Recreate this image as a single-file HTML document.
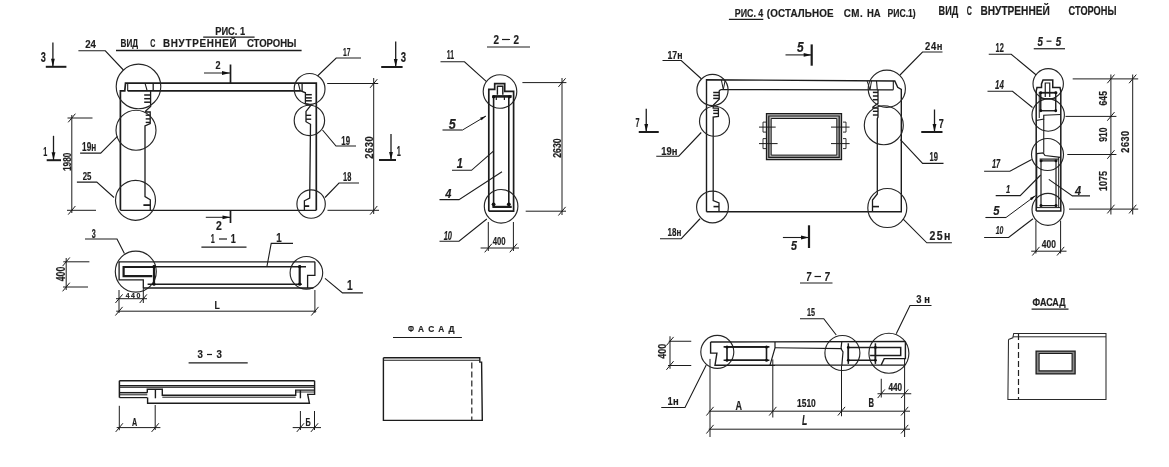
<!DOCTYPE html>
<html><head><meta charset="utf-8"><style>
html,body{margin:0;padding:0;background:#fff;width:1169px;height:467px;overflow:hidden}
svg{display:block}
svg{will-change:transform}
text{font-family:"Liberation Sans",sans-serif}
</style></head><body>
<svg width="1169" height="467" viewBox="0 0 1169 467">
<rect x="0" y="0" width="1169" height="467" fill="#fff"/>
<text transform="translate(215.20,34.50) scale(0.835,1)" x="-0.00" y="0" font-size="11.16" font-weight="bold" font-style="normal" fill="#1e1e1e" stroke="#1e1e1e" stroke-width="0.2">РИС. 1</text>
<line x1="203.20" y1="37.10" x2="254.60" y2="37.10" stroke="#1c1c1c" stroke-width="1.2" />
<text transform="translate(120.60,47.40) scale(0.732,1)" x="-0.00" y="0" font-size="11.16" font-weight="bold" font-style="normal" fill="#1e1e1e" stroke="#1e1e1e" stroke-width="0.2">ВИД</text>
<text transform="translate(150.20,47.40) scale(0.635,1)" x="-0.00" y="0" font-size="11.16" font-weight="bold" font-style="normal" fill="#1e1e1e" stroke="#1e1e1e" stroke-width="0.2">С</text>
<text transform="translate(163.00,47.40) scale(0.880,1)" x="-0.00" y="0" font-size="11.16" font-weight="bold" font-style="normal" textLength="83.65" lengthAdjust="spacing" fill="#1e1e1e" stroke="#1e1e1e" stroke-width="0.2">ВНУТРЕННЕЙ</text>
<text transform="translate(246.90,47.40) scale(0.856,1)" x="-0.00" y="0" font-size="11.16" font-weight="bold" font-style="normal" fill="#1e1e1e" stroke="#1e1e1e" stroke-width="0.2">СТОРОНЫ</text>
<line x1="116.00" y1="50.50" x2="301.60" y2="50.50" stroke="#1c1c1c" stroke-width="1.3" />
<text transform="translate(40.70,62.10) scale(0.625,1)" x="-0.00" y="0" font-size="14.71" font-weight="bold" font-style="normal" fill="#1e1e1e" stroke="#1e1e1e" stroke-width="0.2">3</text>
<line x1="52.90" y1="42.40" x2="52.90" y2="66.80" stroke="#1c1c1c" stroke-width="1.3" />
<path d="M52.90,66.80 L51.00,58.80 L54.80,58.80 Z" fill="#111"/>
<line x1="45.80" y1="66.80" x2="66.40" y2="66.80" stroke="#1c1c1c" stroke-width="2.0" />
<line x1="395.70" y1="41.50" x2="395.70" y2="67.00" stroke="#1c1c1c" stroke-width="1.3" />
<path d="M395.70,67.00 L393.80,59.00 L397.60,59.00 Z" fill="#111"/>
<line x1="381.20" y1="67.00" x2="402.60" y2="67.00" stroke="#1c1c1c" stroke-width="2.0" />
<text transform="translate(400.70,61.70) scale(0.689,1)" x="-0.00" y="0" font-size="13.86" font-weight="bold" font-style="normal" fill="#1e1e1e" stroke="#1e1e1e" stroke-width="0.2">3</text>
<path d="M316.30,210.30 L316.30,83.20 L125.50,83.20 L124.80,90.90 L120.40,90.90 L120.40,210.30" stroke="#1c1c1c" stroke-width="1.7" fill="none" stroke-linejoin="miter"/>
<line x1="120.40" y1="210.30" x2="316.30" y2="210.30" stroke="#1c1c1c" stroke-width="1.3" />
<line x1="127.70" y1="90.90" x2="300.90" y2="90.90" stroke="#1c1c1c" stroke-width="1.7" />
<line x1="127.70" y1="83.20" x2="127.70" y2="90.90" stroke="#1c1c1c" stroke-width="1.1" />
<line x1="145.00" y1="83.20" x2="147.20" y2="90.90" stroke="#1c1c1c" stroke-width="1.1" />
<line x1="153.20" y1="83.20" x2="153.20" y2="90.90" stroke="#1c1c1c" stroke-width="1.3" />
<path d="M150.60,90.90 L150.60,106.50 L145.70,111.00 L145.70,112.00 L150.20,112.00 L150.20,123.50 L145.00,126.00 L145.00,196.60 L150.30,199.80 L150.30,210.30" stroke="#1c1c1c" stroke-width="1.3" fill="none" stroke-linejoin="miter"/>
<line x1="144.20" y1="95.00" x2="150.60" y2="95.00" stroke="#1c1c1c" stroke-width="1.5" />
<line x1="144.20" y1="98.70" x2="150.60" y2="98.70" stroke="#1c1c1c" stroke-width="1.5" />
<line x1="144.20" y1="102.20" x2="150.60" y2="102.20" stroke="#1c1c1c" stroke-width="1.5" />
<line x1="145.70" y1="115.20" x2="150.20" y2="115.20" stroke="#1c1c1c" stroke-width="1.4" />
<line x1="145.70" y1="118.90" x2="150.20" y2="118.90" stroke="#1c1c1c" stroke-width="1.4" />
<line x1="145.70" y1="122.40" x2="150.20" y2="122.40" stroke="#1c1c1c" stroke-width="1.4" />
<line x1="143.40" y1="205.10" x2="150.30" y2="205.10" stroke="#1c1c1c" stroke-width="1.8" />
<line x1="298.30" y1="83.20" x2="300.20" y2="90.90" stroke="#1c1c1c" stroke-width="1.1" />
<line x1="302.10" y1="83.20" x2="302.10" y2="90.90" stroke="#1c1c1c" stroke-width="1.3" />
<path d="M300.90,90.90 L305.40,92.80 L305.40,103.70 L311.20,105.00 L306.00,111.40 L306.00,121.70 L310.50,124.30 L309.70,198.00 L304.40,200.80 L304.40,210.30" stroke="#1c1c1c" stroke-width="1.3" fill="none" stroke-linejoin="miter"/>
<line x1="305.40" y1="94.70" x2="311.80" y2="94.70" stroke="#1c1c1c" stroke-width="1.5" />
<line x1="305.40" y1="97.90" x2="311.80" y2="97.90" stroke="#1c1c1c" stroke-width="1.5" />
<line x1="305.40" y1="100.80" x2="311.80" y2="100.80" stroke="#1c1c1c" stroke-width="1.5" />
<line x1="306.00" y1="115.30" x2="311.20" y2="115.30" stroke="#1c1c1c" stroke-width="1.4" />
<line x1="306.00" y1="119.20" x2="311.20" y2="119.20" stroke="#1c1c1c" stroke-width="1.4" />
<line x1="304.40" y1="206.10" x2="309.20" y2="206.10" stroke="#1c1c1c" stroke-width="1.8" />
<circle cx="138.50" cy="86.50" r="22.30" stroke="#262626" stroke-width="1.15" fill="none"/>
<circle cx="136.00" cy="130.20" r="20.00" stroke="#262626" stroke-width="1.15" fill="none"/>
<circle cx="135.50" cy="200.30" r="20.00" stroke="#262626" stroke-width="1.15" fill="none"/>
<circle cx="309.60" cy="88.90" r="15.40" stroke="#262626" stroke-width="1.15" fill="none"/>
<circle cx="309.40" cy="120.40" r="15.20" stroke="#262626" stroke-width="1.15" fill="none"/>
<circle cx="311.10" cy="204.00" r="14.20" stroke="#262626" stroke-width="1.15" fill="none"/>
<line x1="230.50" y1="64.50" x2="230.50" y2="83.20" stroke="#1c1c1c" stroke-width="1.7" />
<line x1="204.00" y1="73.00" x2="230.00" y2="73.00" stroke="#1c1c1c" stroke-width="1.0" />
<path d="M230.00,73.00 L222.00,74.90 L222.00,71.10 Z" fill="#111"/>
<text transform="translate(215.50,68.75) scale(0.841,1)" x="-0.00" y="0" font-size="10.71" font-weight="bold" font-style="normal" fill="#1e1e1e" stroke="#1e1e1e" stroke-width="0.2">2</text>
<line x1="230.50" y1="210.30" x2="230.50" y2="223.00" stroke="#1c1c1c" stroke-width="1.7" />
<line x1="205.80" y1="217.30" x2="230.50" y2="217.30" stroke="#1c1c1c" stroke-width="1.0" />
<path d="M230.50,217.30 L222.50,219.20 L222.50,215.40 Z" fill="#111"/>
<text transform="translate(216.00,230.40) scale(0.831,1)" x="-0.00" y="0" font-size="12.57" font-weight="bold" font-style="normal" fill="#1e1e1e" stroke="#1e1e1e" stroke-width="0.2">2</text>
<line x1="53.50" y1="135.80" x2="53.50" y2="160.20" stroke="#1c1c1c" stroke-width="1.3" />
<path d="M53.50,160.20 L51.60,152.20 L55.40,152.20 Z" fill="#111"/>
<line x1="46.70" y1="160.20" x2="61.00" y2="160.20" stroke="#1c1c1c" stroke-width="2.0" />
<text transform="translate(43.30,155.70) scale(0.561,1)" x="-0.00" y="0" font-size="12.86" font-weight="bold" font-style="normal" fill="#1e1e1e" stroke="#1e1e1e" stroke-width="0.2">1</text>
<line x1="391.00" y1="134.00" x2="391.00" y2="160.00" stroke="#1c1c1c" stroke-width="1.3" />
<path d="M391.00,160.00 L389.10,152.00 L392.90,152.00 Z" fill="#111"/>
<line x1="379.00" y1="160.00" x2="396.00" y2="160.00" stroke="#1c1c1c" stroke-width="2.0" />
<text transform="translate(396.70,156.25) scale(0.517,1)" x="-0.00" y="0" font-size="14.29" font-weight="bold" font-style="normal" fill="#1e1e1e" stroke="#1e1e1e" stroke-width="0.2">1</text>
<text transform="translate(85.20,48.40) scale(0.833,1)" x="-0.00" y="0" font-size="11.57" font-weight="bold" font-style="normal" fill="#1e1e1e" stroke="#1e1e1e" stroke-width="0.2">24</text>
<path d="M78.40,50.80 L105.30,50.80 L123.40,70.00" stroke="#1c1c1c" stroke-width="1.1" fill="none" stroke-linejoin="miter"/>
<text transform="translate(82.10,150.60) scale(0.685,1)" x="-0.00" y="0" font-size="12.00" font-weight="bold" font-style="normal" fill="#1e1e1e" stroke="#1e1e1e" stroke-width="0.2">19н</text>
<path d="M80.10,153.10 L100.70,153.10 L117.40,136.40" stroke="#1c1c1c" stroke-width="1.1" fill="none" stroke-linejoin="miter"/>
<text transform="translate(82.70,179.50) scale(0.713,1)" x="-0.00" y="0" font-size="11.00" font-weight="bold" font-style="normal" fill="#1e1e1e" stroke="#1e1e1e" stroke-width="0.2">25</text>
<path d="M76.90,182.10 L96.80,182.10 L114.00,197.50" stroke="#1c1c1c" stroke-width="1.1" fill="none" stroke-linejoin="miter"/>
<text transform="translate(343.00,55.70) scale(0.577,1)" x="-0.00" y="0" font-size="11.71" font-weight="bold" font-style="normal" fill="#1e1e1e" stroke="#1e1e1e" stroke-width="0.2">17</text>
<path d="M361.00,58.00 L336.20,58.00 L317.50,76.00" stroke="#1c1c1c" stroke-width="1.1" fill="none" stroke-linejoin="miter"/>
<text transform="translate(341.25,145.00) scale(0.631,1)" x="-0.00" y="0" font-size="12.50" font-weight="bold" font-style="normal" fill="#1e1e1e" stroke="#1e1e1e" stroke-width="0.2">19</text>
<path d="M322.50,130.00 L336.00,146.00 L356.00,146.00" stroke="#1c1c1c" stroke-width="1.1" fill="none" stroke-linejoin="miter"/>
<text transform="translate(343.00,181.25) scale(0.595,1)" x="-0.00" y="0" font-size="12.50" font-weight="bold" font-style="normal" fill="#1e1e1e" stroke="#1e1e1e" stroke-width="0.2">18</text>
<path d="M325.00,197.50 L339.00,183.00 L359.00,183.00" stroke="#1c1c1c" stroke-width="1.1" fill="none" stroke-linejoin="miter"/>
<line x1="373.70" y1="78.00" x2="373.70" y2="214.00" stroke="#1c1c1c" stroke-width="1.0" />
<line x1="327.20" y1="83.50" x2="378.20" y2="83.50" stroke="#1c1c1c" stroke-width="1.0" />
<line x1="327.50" y1="210.30" x2="379.00" y2="210.30" stroke="#1c1c1c" stroke-width="1.0" />
<line x1="370.10" y1="87.82" x2="377.30" y2="79.18" stroke="#1c1c1c" stroke-width="1.0" />
<line x1="370.10" y1="214.62" x2="377.30" y2="205.98" stroke="#1c1c1c" stroke-width="1.0" />
<text transform="translate(372.50,158.75) rotate(-90) scale(0.880,1)" x="-0.00" y="0" font-size="10.64" font-weight="bold" textLength="25.56" lengthAdjust="spacing" fill="#1e1e1e" stroke="#1e1e1e" stroke-width="0.2">2630</text>
<line x1="71.80" y1="115.00" x2="71.80" y2="213.00" stroke="#1c1c1c" stroke-width="1.0" />
<line x1="67.50" y1="118.00" x2="92.50" y2="118.00" stroke="#1c1c1c" stroke-width="1.0" />
<line x1="67.00" y1="210.30" x2="96.00" y2="210.30" stroke="#1c1c1c" stroke-width="1.0" />
<line x1="68.20" y1="122.32" x2="75.40" y2="113.68" stroke="#1c1c1c" stroke-width="1.0" />
<line x1="68.20" y1="214.62" x2="75.40" y2="205.98" stroke="#1c1c1c" stroke-width="1.0" />
<text transform="translate(71.10,171.10) rotate(-90) scale(0.710,1)" x="-0.00" y="0" font-size="11.77" font-weight="bold" fill="#1e1e1e" stroke="#1e1e1e" stroke-width="0.2">1980</text>
<text transform="translate(493.50,44.00) scale(0.771,1)" x="-0.00" y="0" font-size="12.86" font-weight="bold" font-style="normal" fill="#1e1e1e" stroke="#1e1e1e" stroke-width="0.2">2</text>
<line x1="502.00" y1="39.50" x2="510.00" y2="39.50" stroke="#1c1c1c" stroke-width="1.2" />
<text transform="translate(513.50,44.00) scale(0.771,1)" x="-0.00" y="0" font-size="12.86" font-weight="bold" font-style="normal" fill="#1e1e1e" stroke="#1e1e1e" stroke-width="0.2">2</text>
<line x1="487.00" y1="47.00" x2="530.00" y2="47.00" stroke="#1c1c1c" stroke-width="1.2" />
<text transform="translate(446.80,59.00) scale(0.531,1)" x="-0.00" y="0" font-size="12.86" font-weight="bold" font-style="normal" fill="#1e1e1e" stroke="#1e1e1e" stroke-width="0.2">11</text>
<path d="M440.50,61.80 L464.50,61.80 L486.50,81.60" stroke="#1c1c1c" stroke-width="1.1" fill="none" stroke-linejoin="miter"/>
<circle cx="500.00" cy="91.50" r="16.80" stroke="#262626" stroke-width="1.15" fill="none"/>
<circle cx="501.10" cy="206.30" r="16.80" stroke="#262626" stroke-width="1.15" fill="none"/>
<path d="M488.80,211.20 L488.80,89.40 L494.70,89.40 L494.70,83.60 L504.70,83.60 L504.70,91.30 L513.60,91.30 L513.60,211.20 L488.80,211.20" stroke="#1c1c1c" stroke-width="1.7" fill="none" stroke-linejoin="miter"/>
<path d="M497.40,94.80 L497.40,86.30 L502.80,86.30 L502.80,94.80" stroke="#1c1c1c" stroke-width="1.4" fill="none" stroke-linejoin="miter"/>
<line x1="492.40" y1="96.40" x2="511.70" y2="96.40" stroke="#1c1c1c" stroke-width="2.6" />
<line x1="496.30" y1="96.40" x2="496.30" y2="100.00" stroke="#1c1c1c" stroke-width="1.2" />
<line x1="504.40" y1="96.40" x2="504.40" y2="100.00" stroke="#1c1c1c" stroke-width="1.2" />
<line x1="493.60" y1="96.40" x2="493.60" y2="206.90" stroke="#1c1c1c" stroke-width="1.6" />
<line x1="508.80" y1="96.40" x2="508.80" y2="206.90" stroke="#1c1c1c" stroke-width="1.6" />
<line x1="492.40" y1="206.90" x2="511.70" y2="206.90" stroke="#1c1c1c" stroke-width="2.2" />
<circle cx="493.60" cy="204.30" r="1.9" fill="#111"/>
<circle cx="508.80" cy="204.30" r="1.9" fill="#111"/>
<circle cx="493.60" cy="96.80" r="1.6" fill="#111"/>
<circle cx="509.50" cy="96.80" r="1.6" fill="#111"/>
<line x1="522.40" y1="82.60" x2="566.40" y2="82.60" stroke="#1c1c1c" stroke-width="1.0" />
<line x1="525.70" y1="211.20" x2="566.00" y2="211.20" stroke="#1c1c1c" stroke-width="1.0" />
<line x1="562.00" y1="78.00" x2="562.00" y2="215.00" stroke="#1c1c1c" stroke-width="1.0" />
<line x1="558.40" y1="86.92" x2="565.60" y2="78.28" stroke="#1c1c1c" stroke-width="1.0" />
<line x1="558.40" y1="215.52" x2="565.60" y2="206.88" stroke="#1c1c1c" stroke-width="1.0" />
<text transform="translate(560.50,157.80) rotate(-90) scale(0.744,1)" x="-0.00" y="0" font-size="11.77" font-weight="bold" fill="#1e1e1e" stroke="#1e1e1e" stroke-width="0.2">2630</text>
<line x1="488.30" y1="222.00" x2="488.30" y2="251.00" stroke="#1c1c1c" stroke-width="1.0" />
<line x1="513.40" y1="222.00" x2="513.40" y2="251.00" stroke="#1c1c1c" stroke-width="1.0" />
<line x1="480.60" y1="248.00" x2="519.00" y2="248.00" stroke="#1c1c1c" stroke-width="1.0" />
<line x1="484.70" y1="252.32" x2="491.90" y2="243.68" stroke="#1c1c1c" stroke-width="1.0" />
<line x1="509.80" y1="252.32" x2="517.00" y2="243.68" stroke="#1c1c1c" stroke-width="1.0" />
<text transform="translate(492.70,245.00) scale(0.711,1)" x="-0.00" y="0" font-size="10.86" font-weight="bold" font-style="normal" fill="#1e1e1e" stroke="#1e1e1e" stroke-width="0.2">400</text>
<text transform="translate(448.75,128.75) scale(0.880,1)" x="-0.00" y="0" font-size="14.29" font-weight="bold" font-style="italic" fill="#1e1e1e" stroke="#1e1e1e" stroke-width="0.2">5</text>
<line x1="462.50" y1="130.00" x2="486.00" y2="116.00" stroke="#1c1c1c" stroke-width="1.0" />
<path d="M486.00,116.00 L481.61,120.36 L480.08,117.78 Z" fill="#111"/>
<line x1="442.50" y1="130.00" x2="462.50" y2="130.00" stroke="#1c1c1c" stroke-width="1.1" />
<text transform="translate(456.70,167.50) scale(0.769,1)" x="-0.00" y="0" font-size="14.29" font-weight="bold" font-style="italic" fill="#1e1e1e" stroke="#1e1e1e" stroke-width="0.2">1</text>
<path d="M452.00,170.30 L471.50,170.30 L493.70,150.90" stroke="#1c1c1c" stroke-width="1.1" fill="none" stroke-linejoin="miter"/>
<text transform="translate(445.00,197.50) scale(0.880,1)" x="0.25" y="0" font-size="12.50" font-weight="bold" font-style="italic" fill="#1e1e1e" stroke="#1e1e1e" stroke-width="0.2">4</text>
<path d="M439.50,199.60 L459.00,199.60 L502.00,171.70" stroke="#1c1c1c" stroke-width="1.1" fill="none" stroke-linejoin="miter"/>
<text transform="translate(443.70,239.90) scale(0.631,1)" x="-0.00" y="0" font-size="11.86" font-weight="bold" font-style="italic" fill="#1e1e1e" stroke="#1e1e1e" stroke-width="0.2">10</text>
<path d="M439.50,241.30 L459.00,241.30 L486.80,219.00" stroke="#1c1c1c" stroke-width="1.1" fill="none" stroke-linejoin="miter"/>
<text transform="translate(210.80,243.40) scale(0.580,1)" x="-0.00" y="0" font-size="12.43" font-weight="bold" font-style="normal" fill="#1e1e1e" stroke="#1e1e1e" stroke-width="0.2">1</text>
<line x1="219.00" y1="239.00" x2="227.00" y2="239.00" stroke="#1c1c1c" stroke-width="1.2" />
<text transform="translate(230.70,243.40) scale(0.725,1)" x="-0.00" y="0" font-size="12.43" font-weight="bold" font-style="normal" fill="#1e1e1e" stroke="#1e1e1e" stroke-width="0.2">1</text>
<line x1="201.40" y1="247.20" x2="246.50" y2="247.20" stroke="#1c1c1c" stroke-width="1.2" />
<text transform="translate(91.80,237.60) scale(0.580,1)" x="-0.00" y="0" font-size="12.43" font-weight="bold" font-style="normal" fill="#1e1e1e" stroke="#1e1e1e" stroke-width="0.2">3</text>
<path d="M85.00,239.00 L117.00,239.00 L124.40,253.60" stroke="#1c1c1c" stroke-width="1.1" fill="none" stroke-linejoin="miter"/>
<text transform="translate(276.20,242.00) scale(0.783,1)" x="-0.00" y="0" font-size="12.43" font-weight="bold" font-style="normal" fill="#1e1e1e" stroke="#1e1e1e" stroke-width="0.2">1</text>
<path d="M293.00,243.40 L271.20,243.40 L266.90,266.70" stroke="#1c1c1c" stroke-width="1.1" fill="none" stroke-linejoin="miter"/>
<text transform="translate(346.90,290.00) scale(0.705,1)" x="-0.00" y="0" font-size="14.57" font-weight="bold" font-style="normal" fill="#1e1e1e" stroke="#1e1e1e" stroke-width="0.2">1</text>
<path d="M325.00,278.40 L342.50,292.90 L362.90,292.90" stroke="#1c1c1c" stroke-width="1.1" fill="none" stroke-linejoin="miter"/>
<circle cx="135.80" cy="271.60" r="20.50" stroke="#262626" stroke-width="1.15" fill="none"/>
<circle cx="306.40" cy="272.80" r="16.30" stroke="#262626" stroke-width="1.15" fill="none"/>
<line x1="118.50" y1="261.80" x2="314.90" y2="261.80" stroke="#1c1c1c" stroke-width="1.3" />
<line x1="152.00" y1="266.70" x2="306.00" y2="266.70" stroke="#1c1c1c" stroke-width="1.5" />
<line x1="147.60" y1="284.20" x2="301.80" y2="284.20" stroke="#1c1c1c" stroke-width="1.5" />
<line x1="143.30" y1="288.00" x2="313.40" y2="288.00" stroke="#1c1c1c" stroke-width="1.3" />
<path d="M119.10,261.80 L119.10,279.80 L143.30,279.80 L143.30,288.00" stroke="#1c1c1c" stroke-width="1.3" fill="none" stroke-linejoin="miter"/>
<path d="M155.00,267.00 L123.60,267.00 L123.60,276.10 L152.30,276.10" stroke="#1c1c1c" stroke-width="2.2" fill="none" stroke-linejoin="miter"/>
<line x1="154.00" y1="265.30" x2="154.00" y2="284.20" stroke="#1c1c1c" stroke-width="2.2" />
<path d="M314.90,261.80 L314.90,275.40 L307.60,275.40 L307.60,288.00" stroke="#1c1c1c" stroke-width="1.3" fill="none" stroke-linejoin="miter"/>
<line x1="299.70" y1="265.30" x2="299.70" y2="284.20" stroke="#1c1c1c" stroke-width="2.2" />
<circle cx="154.00" cy="266.70" r="1.6" fill="#111"/>
<circle cx="154.00" cy="284.20" r="1.6" fill="#111"/>
<circle cx="299.70" cy="266.70" r="1.6" fill="#111"/>
<circle cx="299.70" cy="284.20" r="1.6" fill="#111"/>
<line x1="66.20" y1="258.00" x2="66.20" y2="290.00" stroke="#1c1c1c" stroke-width="1.0" />
<line x1="63.30" y1="261.80" x2="89.40" y2="261.80" stroke="#1c1c1c" stroke-width="1.0" />
<line x1="63.00" y1="287.00" x2="88.00" y2="287.00" stroke="#1c1c1c" stroke-width="1.0" />
<line x1="62.60" y1="266.12" x2="69.80" y2="257.48" stroke="#1c1c1c" stroke-width="1.0" />
<line x1="62.60" y1="291.32" x2="69.80" y2="282.68" stroke="#1c1c1c" stroke-width="1.0" />
<text transform="translate(64.70,281.30) rotate(-90) scale(0.708,1)" x="-0.00" y="0" font-size="12.34" font-weight="bold" fill="#1e1e1e" stroke="#1e1e1e" stroke-width="0.2">400</text>
<line x1="119.00" y1="290.00" x2="119.00" y2="313.00" stroke="#1c1c1c" stroke-width="1.0" />
<line x1="143.30" y1="288.00" x2="143.30" y2="303.00" stroke="#1c1c1c" stroke-width="1.0" />
<line x1="116.00" y1="298.70" x2="147.00" y2="298.70" stroke="#1c1c1c" stroke-width="1.0" />
<line x1="115.40" y1="303.02" x2="122.60" y2="294.38" stroke="#1c1c1c" stroke-width="1.0" />
<line x1="139.70" y1="303.02" x2="146.90" y2="294.38" stroke="#1c1c1c" stroke-width="1.0" />
<text transform="translate(125.80,297.80) scale(0.880,1)" x="-0.00" y="0" font-size="7.86" font-weight="bold" font-style="normal" textLength="16.47" lengthAdjust="spacing" fill="#1e1e1e" stroke="#1e1e1e" stroke-width="0.2">440</text>
<line x1="116.20" y1="311.20" x2="316.30" y2="311.20" stroke="#1c1c1c" stroke-width="1.0" />
<line x1="314.90" y1="290.00" x2="314.90" y2="313.00" stroke="#1c1c1c" stroke-width="1.0" />
<line x1="115.40" y1="315.52" x2="122.60" y2="306.88" stroke="#1c1c1c" stroke-width="1.0" />
<line x1="311.30" y1="315.52" x2="318.50" y2="306.88" stroke="#1c1c1c" stroke-width="1.0" />
<text transform="translate(214.50,308.90) scale(0.833,1)" x="-0.00" y="0" font-size="10.43" font-weight="bold" font-style="normal" fill="#1e1e1e" stroke="#1e1e1e" stroke-width="0.2">L</text>
<text transform="translate(197.60,358.30) scale(0.880,1)" x="-0.00" y="0" font-size="11.00" font-weight="bold" font-style="normal" fill="#1e1e1e" stroke="#1e1e1e" stroke-width="0.2">3</text>
<line x1="207.00" y1="354.50" x2="212.00" y2="354.50" stroke="#1c1c1c" stroke-width="1.2" />
<text transform="translate(216.60,358.30) scale(0.880,1)" x="-0.00" y="0" font-size="11.00" font-weight="bold" font-style="normal" fill="#1e1e1e" stroke="#1e1e1e" stroke-width="0.2">3</text>
<line x1="188.60" y1="362.90" x2="247.70" y2="362.90" stroke="#1c1c1c" stroke-width="1.3" />
<line x1="119.40" y1="380.70" x2="314.60" y2="380.70" stroke="#1c1c1c" stroke-width="1.5" />
<line x1="119.40" y1="385.70" x2="314.60" y2="385.70" stroke="#1c1c1c" stroke-width="1.5" />
<line x1="119.40" y1="387.40" x2="314.60" y2="387.40" stroke="#1c1c1c" stroke-width="0.9" />
<line x1="119.40" y1="392.70" x2="147.30" y2="392.70" stroke="#1c1c1c" stroke-width="1.5" />
<line x1="119.40" y1="394.80" x2="147.30" y2="394.80" stroke="#1c1c1c" stroke-width="1.0" />
<line x1="119.40" y1="397.60" x2="147.30" y2="397.60" stroke="#1c1c1c" stroke-width="1.2" />
<line x1="119.40" y1="380.70" x2="119.40" y2="397.60" stroke="#1c1c1c" stroke-width="1.5" />
<path d="M147.30,392.70 L147.30,389.30 L162.30,389.30 L162.30,395.20 L295.70,395.20 L295.70,390.10 L314.60,390.10" stroke="#1c1c1c" stroke-width="1.4" fill="none" stroke-linejoin="miter"/>
<line x1="162.30" y1="397.20" x2="295.70" y2="397.20" stroke="#1c1c1c" stroke-width="1.0" />
<line x1="295.70" y1="392.00" x2="314.60" y2="392.00" stroke="#1c1c1c" stroke-width="0.9" />
<path d="M314.60,380.70 L314.60,394.40 L307.70,394.40 L309.40,403.20 L147.60,403.20 L147.60,397.60" stroke="#1c1c1c" stroke-width="1.4" fill="none" stroke-linejoin="miter"/>
<line x1="155.40" y1="389.30" x2="155.40" y2="398.30" stroke="#1c1c1c" stroke-width="1.4" />
<line x1="300.40" y1="390.10" x2="300.40" y2="398.30" stroke="#1c1c1c" stroke-width="1.4" />
<line x1="119.30" y1="405.80" x2="119.30" y2="430.20" stroke="#1c1c1c" stroke-width="1.0" />
<line x1="155.20" y1="405.00" x2="155.20" y2="430.00" stroke="#1c1c1c" stroke-width="1.0" />
<line x1="116.70" y1="427.60" x2="160.40" y2="427.60" stroke="#1c1c1c" stroke-width="1.0" />
<line x1="115.70" y1="431.92" x2="122.90" y2="423.28" stroke="#1c1c1c" stroke-width="1.0" />
<line x1="151.60" y1="431.92" x2="158.80" y2="423.28" stroke="#1c1c1c" stroke-width="1.0" />
<text transform="translate(132.10,425.60) scale(0.617,1)" x="-0.00" y="0" font-size="11.71" font-weight="bold" font-style="normal" fill="#1e1e1e" stroke="#1e1e1e" stroke-width="0.2">А</text>
<line x1="300.40" y1="411.00" x2="300.40" y2="430.00" stroke="#1c1c1c" stroke-width="1.0" />
<line x1="314.50" y1="411.00" x2="314.50" y2="430.00" stroke="#1c1c1c" stroke-width="1.0" />
<line x1="292.70" y1="427.60" x2="321.00" y2="427.60" stroke="#1c1c1c" stroke-width="1.0" />
<line x1="296.80" y1="431.92" x2="304.00" y2="423.28" stroke="#1c1c1c" stroke-width="1.0" />
<line x1="310.90" y1="431.92" x2="318.10" y2="423.28" stroke="#1c1c1c" stroke-width="1.0" />
<text transform="translate(305.50,425.60) scale(0.617,1)" x="-0.00" y="0" font-size="11.71" font-weight="bold" font-style="normal" fill="#1e1e1e" stroke="#1e1e1e" stroke-width="0.2">Б</text>
<text transform="translate(407.90,332.40) scale(0.712,1)" x="-0.00" y="0" font-size="9.86" font-weight="bold" font-style="normal" fill="#1e1e1e" stroke="#1e1e1e" stroke-width="0.2">Ф</text>
<text transform="translate(418.02,332.40) scale(0.845,1)" x="-0.00" y="0" font-size="9.86" font-weight="bold" font-style="normal" fill="#1e1e1e" stroke="#1e1e1e" stroke-width="0.2">А</text>
<text transform="translate(428.15,332.40) scale(0.845,1)" x="-0.00" y="0" font-size="9.86" font-weight="bold" font-style="normal" fill="#1e1e1e" stroke="#1e1e1e" stroke-width="0.2">С</text>
<text transform="translate(438.27,332.40) scale(0.845,1)" x="-0.00" y="0" font-size="9.86" font-weight="bold" font-style="normal" fill="#1e1e1e" stroke="#1e1e1e" stroke-width="0.2">А</text>
<text transform="translate(448.40,332.40) scale(0.857,1)" x="-0.00" y="0" font-size="9.86" font-weight="bold" font-style="normal" fill="#1e1e1e" stroke="#1e1e1e" stroke-width="0.2">Д</text>
<line x1="393.00" y1="337.50" x2="461.90" y2="337.50" stroke="#1c1c1c" stroke-width="1.2" />
<path d="M383.40,357.80 L479.80,357.80 L479.80,362.10 L481.60,362.10 L482.30,420.40 L383.40,420.40 L383.40,357.80" stroke="#1c1c1c" stroke-width="1.4" fill="none" stroke-linejoin="miter"/>
<line x1="383.40" y1="360.20" x2="479.30" y2="360.20" stroke="#1c1c1c" stroke-width="1.1" />
<line x1="471.8" y1="362.5" x2="471.8" y2="420" stroke="#222" stroke-width="1.2" stroke-dasharray="6,3"/>
<text transform="translate(734.80,16.70) scale(0.783,1)" x="-0.00" y="0" font-size="11.30" font-weight="bold" font-style="normal" fill="#1e1e1e" stroke="#1e1e1e" stroke-width="0.2">РИС. 4</text>
<line x1="728.90" y1="19.30" x2="763.30" y2="19.30" stroke="#1c1c1c" stroke-width="1.2" />
<text transform="translate(766.80,17.10) scale(0.880,1)" x="-0.00" y="0" font-size="11.16" font-weight="bold" font-style="normal" textLength="75.88" lengthAdjust="spacing" fill="#1e1e1e" stroke="#1e1e1e" stroke-width="0.2">(ОСТАЛЬНОЕ</text>
<text transform="translate(843.80,17.10) scale(0.880,1)" x="-0.00" y="0" font-size="11.16" font-weight="bold" font-style="normal" textLength="21.48" lengthAdjust="spacing" fill="#1e1e1e" stroke="#1e1e1e" stroke-width="0.2">СМ.</text>
<text transform="translate(866.90,17.10) scale(0.850,1)" x="-0.00" y="0" font-size="11.16" font-weight="bold" font-style="normal" fill="#1e1e1e" stroke="#1e1e1e" stroke-width="0.2">НА</text>
<text transform="translate(887.50,17.10) scale(0.772,1)" x="-0.00" y="0" font-size="11.16" font-weight="bold" font-style="normal" fill="#1e1e1e" stroke="#1e1e1e" stroke-width="0.2">РИС.1)</text>
<text transform="translate(938.60,15.40) scale(0.765,1)" x="-0.00" y="0" font-size="11.88" font-weight="bold" font-style="normal" fill="#1e1e1e" stroke="#1e1e1e" stroke-width="0.2">ВИД</text>
<text transform="translate(966.80,15.40) scale(0.596,1)" x="-0.00" y="0" font-size="11.88" font-weight="bold" font-style="normal" fill="#1e1e1e" stroke="#1e1e1e" stroke-width="0.2">С</text>
<text transform="translate(980.50,15.40) scale(0.853,1)" x="-0.00" y="0" font-size="11.88" font-weight="bold" font-style="normal" fill="#1e1e1e" stroke="#1e1e1e" stroke-width="0.2">ВНУТРЕННЕЙ</text>
<text transform="translate(1068.60,15.40) scale(0.776,1)" x="-0.00" y="0" font-size="11.88" font-weight="bold" font-style="normal" fill="#1e1e1e" stroke="#1e1e1e" stroke-width="0.2">СТОРОНЫ</text>
<path d="M706.50,211.80 L706.50,79.80 L894.80,81.00 L897.70,87.30 L901.30,89.50 L901.30,211.80 L706.50,211.80" stroke="#1c1c1c" stroke-width="1.4" fill="none" stroke-linejoin="miter"/>
<line x1="720.70" y1="89.60" x2="893.30" y2="89.80" stroke="#1c1c1c" stroke-width="1.35" />
<line x1="893.30" y1="81.00" x2="893.30" y2="89.80" stroke="#1c1c1c" stroke-width="1.1" />
<path d="M721.40,80.00 L723.30,89.60 L725.20,80.00" stroke="#1c1c1c" stroke-width="1.0" fill="none" stroke-linejoin="miter"/>
<path d="M720.70,89.60 L719.20,91.00 L719.20,99.20 L713.20,105.20 L713.20,108.20 L718.40,108.20 L718.40,116.40 L713.20,117.00 L713.20,200.50 L719.00,203.00 L719.00,211.80" stroke="#1c1c1c" stroke-width="1.3" fill="none" stroke-linejoin="miter"/>
<line x1="713.20" y1="92.50" x2="719.20" y2="92.50" stroke="#1c1c1c" stroke-width="1.5" />
<line x1="713.20" y1="95.40" x2="719.20" y2="95.40" stroke="#1c1c1c" stroke-width="1.5" />
<line x1="713.20" y1="98.40" x2="719.20" y2="98.40" stroke="#1c1c1c" stroke-width="1.5" />
<line x1="713.20" y1="110.40" x2="718.40" y2="110.40" stroke="#1c1c1c" stroke-width="1.4" />
<line x1="713.20" y1="113.40" x2="718.40" y2="113.40" stroke="#1c1c1c" stroke-width="1.4" />
<line x1="713.50" y1="206.60" x2="719.00" y2="206.60" stroke="#1c1c1c" stroke-width="1.6" />
<path d="M867.10,81.00 L870.00,89.80 L871.50,81.00" stroke="#1c1c1c" stroke-width="1.0" fill="none" stroke-linejoin="miter"/>
<line x1="876.50" y1="81.00" x2="877.30" y2="89.80" stroke="#1c1c1c" stroke-width="1.1" />
<path d="M878.00,89.80 L878.00,103.30 L872.90,107.00 L872.90,108.00 L878.00,108.00 L878.00,117.00 L877.30,118.60 L877.30,194.00 L872.50,200.00 L872.50,211.80" stroke="#1c1c1c" stroke-width="1.3" fill="none" stroke-linejoin="miter"/>
<line x1="872.90" y1="92.40" x2="878.00" y2="92.40" stroke="#1c1c1c" stroke-width="1.5" />
<line x1="872.90" y1="96.00" x2="878.00" y2="96.00" stroke="#1c1c1c" stroke-width="1.5" />
<line x1="872.90" y1="99.70" x2="878.00" y2="99.70" stroke="#1c1c1c" stroke-width="1.5" />
<line x1="872.90" y1="111.30" x2="878.00" y2="111.30" stroke="#1c1c1c" stroke-width="1.4" />
<line x1="872.90" y1="115.00" x2="878.00" y2="115.00" stroke="#1c1c1c" stroke-width="1.4" />
<line x1="872.50" y1="206.60" x2="879.00" y2="206.60" stroke="#1c1c1c" stroke-width="1.6" />
<circle cx="712.50" cy="90.00" r="15.60" stroke="#262626" stroke-width="1.15" fill="none"/>
<circle cx="714.50" cy="121.25" r="15.00" stroke="#262626" stroke-width="1.15" fill="none"/>
<circle cx="712.50" cy="207.00" r="15.90" stroke="#262626" stroke-width="1.15" fill="none"/>
<circle cx="886.80" cy="88.70" r="18.60" stroke="#262626" stroke-width="1.15" fill="none"/>
<circle cx="883.80" cy="125.20" r="19.50" stroke="#262626" stroke-width="1.15" fill="none"/>
<circle cx="887.30" cy="208.00" r="19.50" stroke="#262626" stroke-width="1.15" fill="none"/>
<path d="M766.5,113.7 H841.5 V159.6 H766.5 Z M771.2,118.5 V155.1 H836.8 V118.5 Z" fill="#b4b4b4" fill-rule="evenodd"/>
<path d="M766.50,113.70 L841.50,113.70 L841.50,159.60 L766.50,159.60 Z" stroke="#1c1c1c" stroke-width="1.3" fill="none" stroke-linejoin="miter"/>
<path d="M768.80,116.00 L839.20,116.00 L839.20,157.30 L768.80,157.30 Z" stroke="#1c1c1c" stroke-width="1.2" fill="none" stroke-linejoin="miter"/>
<path d="M771.20,118.50 L836.80,118.50 L836.80,155.10 L771.20,155.10 Z" stroke="#1c1c1c" stroke-width="1.0" fill="none" stroke-linejoin="miter"/>
<line x1="759.00" y1="127.10" x2="775.70" y2="127.10" stroke="#1c1c1c" stroke-width="1.0" />
<line x1="759.00" y1="143.60" x2="777.60" y2="143.60" stroke="#1c1c1c" stroke-width="1.0" />
<line x1="831.00" y1="127.10" x2="849.60" y2="127.10" stroke="#1c1c1c" stroke-width="1.0" />
<line x1="831.00" y1="143.60" x2="849.60" y2="143.60" stroke="#1c1c1c" stroke-width="1.0" />
<path d="M766.00,122.10 L763.00,122.10 L763.00,132.10 L766.00,132.10" stroke="#1c1c1c" stroke-width="0.9" fill="none" stroke-linejoin="miter"/>
<path d="M766.00,138.60 L763.00,138.60 L763.00,148.60 L766.00,148.60" stroke="#1c1c1c" stroke-width="0.9" fill="none" stroke-linejoin="miter"/>
<path d="M843.00,122.10 L846.00,122.10 L846.00,132.10 L843.00,132.10" stroke="#1c1c1c" stroke-width="0.9" fill="none" stroke-linejoin="miter"/>
<path d="M843.00,138.60 L846.00,138.60 L846.00,148.60 L843.00,148.60" stroke="#1c1c1c" stroke-width="0.9" fill="none" stroke-linejoin="miter"/>
<text transform="translate(667.50,58.75) scale(0.816,1)" x="-0.00" y="0" font-size="10.71" font-weight="bold" font-style="normal" fill="#1e1e1e" stroke="#1e1e1e" stroke-width="0.2">17н</text>
<path d="M662.50,60.50 L681.25,60.50 L701.25,78.75" stroke="#1c1c1c" stroke-width="1.1" fill="none" stroke-linejoin="miter"/>
<text transform="translate(661.25,155.00) scale(0.880,1)" x="-0.00" y="0" font-size="10.71" font-weight="bold" font-style="normal" textLength="18.48" lengthAdjust="spacing" fill="#1e1e1e" stroke="#1e1e1e" stroke-width="0.2">19н</text>
<path d="M656.25,156.25 L678.75,156.25 L701.25,132.50" stroke="#1c1c1c" stroke-width="1.1" fill="none" stroke-linejoin="miter"/>
<text transform="translate(667.50,236.25) scale(0.748,1)" x="-0.00" y="0" font-size="10.71" font-weight="bold" font-style="normal" fill="#1e1e1e" stroke="#1e1e1e" stroke-width="0.2">18н</text>
<path d="M660.00,238.75 L681.25,238.75 L700.00,218.75" stroke="#1c1c1c" stroke-width="1.1" fill="none" stroke-linejoin="miter"/>
<text transform="translate(925.00,50.00) scale(0.880,1)" x="-0.00" y="0" font-size="10.71" font-weight="bold" font-style="normal" textLength="19.90" lengthAdjust="spacing" fill="#1e1e1e" stroke="#1e1e1e" stroke-width="0.2">24н</text>
<path d="M942.50,52.00 L922.50,52.00 L900.00,75.00" stroke="#1c1c1c" stroke-width="1.1" fill="none" stroke-linejoin="miter"/>
<text transform="translate(929.60,160.60) scale(0.638,1)" x="-0.00" y="0" font-size="11.86" font-weight="bold" font-style="normal" fill="#1e1e1e" stroke="#1e1e1e" stroke-width="0.2">19</text>
<path d="M900.40,139.70 L922.60,163.40 L943.50,163.40" stroke="#1c1c1c" stroke-width="1.1" fill="none" stroke-linejoin="miter"/>
<text transform="translate(929.60,240.00) scale(0.880,1)" x="-0.00" y="0" font-size="12.00" font-weight="bold" font-style="normal" textLength="23.77" lengthAdjust="spacing" fill="#1e1e1e" stroke="#1e1e1e" stroke-width="0.2">25н</text>
<path d="M903.20,219.10 L926.80,242.80 L951.90,242.80" stroke="#1c1c1c" stroke-width="1.1" fill="none" stroke-linejoin="miter"/>
<line x1="811.70" y1="44.40" x2="811.70" y2="65.70" stroke="#1c1c1c" stroke-width="2.2" />
<line x1="785.50" y1="54.90" x2="811.70" y2="54.90" stroke="#1c1c1c" stroke-width="1.1" />
<path d="M811.70,54.90 L803.70,56.80 L803.70,53.00 Z" fill="#111"/>
<text transform="translate(797.10,51.50) scale(0.852,1)" x="-0.00" y="0" font-size="14.00" font-weight="bold" font-style="italic" fill="#1e1e1e" stroke="#1e1e1e" stroke-width="0.2">5</text>
<line x1="809.00" y1="225.30" x2="809.00" y2="248.00" stroke="#1c1c1c" stroke-width="2.2" />
<line x1="782.90" y1="237.50" x2="809.00" y2="237.50" stroke="#1c1c1c" stroke-width="1.1" />
<path d="M809.00,237.50 L801.00,239.40 L801.00,235.60 Z" fill="#111"/>
<text transform="translate(791.00,250.10) scale(0.880,1)" x="-0.00" y="0" font-size="12.14" font-weight="bold" font-style="italic" fill="#1e1e1e" stroke="#1e1e1e" stroke-width="0.2">5</text>
<text transform="translate(635.50,127.00) scale(0.561,1)" x="-0.00" y="0" font-size="12.86" font-weight="bold" font-style="normal" fill="#1e1e1e" stroke="#1e1e1e" stroke-width="0.2">7</text>
<line x1="646.25" y1="108.75" x2="646.25" y2="132.00" stroke="#1c1c1c" stroke-width="1.3" />
<path d="M646.25,132.00 L644.35,124.00 L648.15,124.00 Z" fill="#111"/>
<line x1="638.75" y1="132.00" x2="658.75" y2="132.00" stroke="#1c1c1c" stroke-width="2.0" />
<line x1="934.50" y1="109.50" x2="934.50" y2="132.00" stroke="#1c1c1c" stroke-width="1.3" />
<path d="M934.50,132.00 L932.60,124.00 L936.40,124.00 Z" fill="#111"/>
<line x1="921.25" y1="132.00" x2="942.50" y2="132.00" stroke="#1c1c1c" stroke-width="2.0" />
<text transform="translate(938.75,127.50) scale(0.664,1)" x="-0.00" y="0" font-size="13.57" font-weight="bold" font-style="normal" fill="#1e1e1e" stroke="#1e1e1e" stroke-width="0.2">7</text>
<text transform="translate(1037.50,45.50) scale(0.795,1)" x="-0.00" y="0" font-size="12.14" font-weight="bold" font-style="italic" fill="#1e1e1e" stroke="#1e1e1e" stroke-width="0.2">5</text>
<line x1="1046.50" y1="41.20" x2="1051.50" y2="41.20" stroke="#1c1c1c" stroke-width="1.2" />
<text transform="translate(1055.75,45.50) scale(0.795,1)" x="-0.00" y="0" font-size="12.14" font-weight="bold" font-style="italic" fill="#1e1e1e" stroke="#1e1e1e" stroke-width="0.2">5</text>
<line x1="1033.75" y1="48.75" x2="1065.00" y2="48.75" stroke="#1c1c1c" stroke-width="1.2" />
<text transform="translate(995.50,52.00) scale(0.578,1)" x="-0.00" y="0" font-size="12.86" font-weight="bold" font-style="normal" fill="#1e1e1e" stroke="#1e1e1e" stroke-width="0.2">12</text>
<path d="M988.75,54.25 L1011.25,54.25 L1036.25,75.00" stroke="#1c1c1c" stroke-width="1.1" fill="none" stroke-linejoin="miter"/>
<text transform="translate(995.00,88.75) scale(0.631,1)" x="-0.00" y="0" font-size="12.50" font-weight="bold" font-style="italic" fill="#1e1e1e" stroke="#1e1e1e" stroke-width="0.2">14</text>
<path d="M987.50,91.25 L1012.50,91.25 L1032.50,107.50" stroke="#1c1c1c" stroke-width="1.1" fill="none" stroke-linejoin="miter"/>
<circle cx="1048.20" cy="83.80" r="15.20" stroke="#262626" stroke-width="1.15" fill="none"/>
<circle cx="1048.20" cy="115.00" r="16.20" stroke="#262626" stroke-width="1.15" fill="none"/>
<circle cx="1047.50" cy="154.50" r="16.00" stroke="#262626" stroke-width="1.15" fill="none"/>
<circle cx="1048.00" cy="209.40" r="16.00" stroke="#262626" stroke-width="1.15" fill="none"/>
<path d="M1036.20,211.00 L1036.20,91.00 L1037.00,87.50 L1041.50,87.50 L1041.50,84.00 L1043.00,80.00 L1052.75,80.00 L1052.75,87.50 L1060.00,87.50 L1060.80,91.00 L1060.80,211.00 L1036.20,211.00" stroke="#1c1c1c" stroke-width="1.5" fill="none" stroke-linejoin="miter"/>
<path d="M1045.25,97.00 L1045.25,83.00 L1049.75,83.00 L1049.75,97.00" stroke="#1c1c1c" stroke-width="1.2" fill="none" stroke-linejoin="miter"/>
<line x1="1039.25" y1="92.75" x2="1057.25" y2="92.75" stroke="#1c1c1c" stroke-width="1.8" />
<line x1="1040.75" y1="92.75" x2="1040.75" y2="110.75" stroke="#1c1c1c" stroke-width="1.4" />
<line x1="1055.75" y1="92.75" x2="1055.75" y2="110.75" stroke="#1c1c1c" stroke-width="1.4" />
<line x1="1040.75" y1="98.75" x2="1055.75" y2="98.75" stroke="#1c1c1c" stroke-width="1.1" />
<line x1="1040.75" y1="110.75" x2="1055.75" y2="110.75" stroke="#1c1c1c" stroke-width="1.4" />
<circle cx="1040.75" cy="92.75" r="1.4" fill="#111"/>
<circle cx="1055.75" cy="92.75" r="1.4" fill="#111"/>
<circle cx="1040.75" cy="110.75" r="1.4" fill="#111"/>
<circle cx="1055.75" cy="110.75" r="1.4" fill="#111"/>
<line x1="1039.25" y1="92.00" x2="1039.25" y2="118.00" stroke="#1c1c1c" stroke-width="1.0" />
<path d="M1036.20,120.50 L1043.75,119.00 L1043.75,115.25 L1060.80,114.50" stroke="#1c1c1c" stroke-width="1.2" fill="none" stroke-linejoin="miter"/>
<line x1="1043.75" y1="119.00" x2="1043.75" y2="152.80" stroke="#1c1c1c" stroke-width="1.1" />
<path d="M1036.80,153.70 L1043.20,152.80 L1045.00,155.50 L1060.50,157.30" stroke="#1c1c1c" stroke-width="1.2" fill="none" stroke-linejoin="miter"/>
<line x1="1036.80" y1="153.70" x2="1036.80" y2="208.00" stroke="#1c1c1c" stroke-width="1.0" />
<line x1="1058.70" y1="157.00" x2="1058.70" y2="208.00" stroke="#1c1c1c" stroke-width="1.0" />
<line x1="1036.20" y1="207.60" x2="1060.80" y2="207.60" stroke="#1c1c1c" stroke-width="1.0" />
<line x1="1039.60" y1="159.10" x2="1058.70" y2="159.10" stroke="#1c1c1c" stroke-width="1.2" />
<path d="M1041.00,160.80 L1056.00,160.80 L1056.00,205.60 L1041.00,205.60 Z" stroke="#1c1c1c" stroke-width="1.2" fill="none" stroke-linejoin="miter"/>
<circle cx="1041.00" cy="160.80" r="1.5" fill="#111"/>
<circle cx="1056.00" cy="160.80" r="1.5" fill="#111"/>
<circle cx="1041.00" cy="205.60" r="1.5" fill="#111"/>
<circle cx="1056.00" cy="205.60" r="1.5" fill="#111"/>
<text transform="translate(991.90,168.10) scale(0.606,1)" x="-0.00" y="0" font-size="12.14" font-weight="bold" font-style="italic" fill="#1e1e1e" stroke="#1e1e1e" stroke-width="0.2">17</text>
<path d="M984.10,171.20 L1009.90,171.20 L1031.70,159.60" stroke="#1c1c1c" stroke-width="1.1" fill="none" stroke-linejoin="miter"/>
<text transform="translate(1006.00,193.00) scale(0.688,1)" x="-0.00" y="0" font-size="11.00" font-weight="bold" font-style="italic" fill="#1e1e1e" stroke="#1e1e1e" stroke-width="0.2">1</text>
<path d="M995.70,195.60 L1020.20,195.60 L1040.70,175.00" stroke="#1c1c1c" stroke-width="1.1" fill="none" stroke-linejoin="miter"/>
<text transform="translate(993.20,214.90) scale(0.873,1)" x="-0.00" y="0" font-size="12.86" font-weight="bold" font-style="italic" fill="#1e1e1e" stroke="#1e1e1e" stroke-width="0.2">5</text>
<line x1="985.40" y1="217.50" x2="1006.00" y2="217.50" stroke="#1c1c1c" stroke-width="1.1" />
<line x1="1006.00" y1="217.50" x2="1035.60" y2="195.60" stroke="#1c1c1c" stroke-width="1.0" />
<path d="M1035.60,195.60 L1031.67,200.37 L1029.88,197.96 Z" fill="#111"/>
<text transform="translate(995.70,234.20) scale(0.631,1)" x="-0.00" y="0" font-size="11.00" font-weight="bold" font-style="italic" fill="#1e1e1e" stroke="#1e1e1e" stroke-width="0.2">10</text>
<path d="M984.10,237.50 L1008.60,237.50 L1033.00,218.70" stroke="#1c1c1c" stroke-width="1.1" fill="none" stroke-linejoin="miter"/>
<text transform="translate(1074.70,194.70) scale(0.816,1)" x="0.27" y="0" font-size="13.43" font-weight="bold" font-style="italic" fill="#1e1e1e" stroke="#1e1e1e" stroke-width="0.2">4</text>
<path d="M1090.00,195.90 L1072.40,195.90 L1048.80,179.40" stroke="#1c1c1c" stroke-width="1.1" fill="none" stroke-linejoin="miter"/>
<line x1="1072.70" y1="78.90" x2="1138.20" y2="78.90" stroke="#1c1c1c" stroke-width="1.0" />
<line x1="1065.50" y1="116.40" x2="1116.40" y2="116.40" stroke="#1c1c1c" stroke-width="1.0" />
<line x1="1067.30" y1="154.50" x2="1116.40" y2="154.50" stroke="#1c1c1c" stroke-width="1.0" />
<line x1="1069.00" y1="209.10" x2="1138.20" y2="209.10" stroke="#1c1c1c" stroke-width="1.0" />
<line x1="1110.90" y1="74.50" x2="1110.90" y2="214.50" stroke="#1c1c1c" stroke-width="1.0" />
<line x1="1132.70" y1="74.50" x2="1132.70" y2="214.50" stroke="#1c1c1c" stroke-width="1.0" />
<line x1="1107.30" y1="83.22" x2="1114.50" y2="74.58" stroke="#1c1c1c" stroke-width="1.0" />
<line x1="1107.30" y1="120.72" x2="1114.50" y2="112.08" stroke="#1c1c1c" stroke-width="1.0" />
<line x1="1107.30" y1="158.82" x2="1114.50" y2="150.18" stroke="#1c1c1c" stroke-width="1.0" />
<line x1="1107.30" y1="213.42" x2="1114.50" y2="204.78" stroke="#1c1c1c" stroke-width="1.0" />
<line x1="1129.10" y1="83.22" x2="1136.30" y2="74.58" stroke="#1c1c1c" stroke-width="1.0" />
<line x1="1129.10" y1="213.42" x2="1136.30" y2="204.78" stroke="#1c1c1c" stroke-width="1.0" />
<text transform="translate(1107.30,105.50) rotate(-90) scale(0.844,1)" x="-0.00" y="0" font-size="10.35" font-weight="bold" fill="#1e1e1e" stroke="#1e1e1e" stroke-width="0.2">645</text>
<text transform="translate(1107.30,141.80) rotate(-90) scale(0.839,1)" x="-0.00" y="0" font-size="10.35" font-weight="bold" fill="#1e1e1e" stroke="#1e1e1e" stroke-width="0.2">910</text>
<text transform="translate(1107.30,190.90) rotate(-90) scale(0.868,1)" x="-0.00" y="0" font-size="10.35" font-weight="bold" fill="#1e1e1e" stroke="#1e1e1e" stroke-width="0.2">1075</text>
<text transform="translate(1129.10,152.70) rotate(-90) scale(0.880,1)" x="-0.00" y="0" font-size="10.35" font-weight="bold" textLength="24.77" lengthAdjust="spacing" fill="#1e1e1e" stroke="#1e1e1e" stroke-width="0.2">2630</text>
<line x1="1035.90" y1="220.60" x2="1035.90" y2="253.50" stroke="#1c1c1c" stroke-width="1.0" />
<line x1="1060.60" y1="220.60" x2="1060.60" y2="253.50" stroke="#1c1c1c" stroke-width="1.0" />
<line x1="1031.20" y1="251.20" x2="1066.50" y2="251.20" stroke="#1c1c1c" stroke-width="1.0" />
<line x1="1032.30" y1="255.52" x2="1039.50" y2="246.88" stroke="#1c1c1c" stroke-width="1.0" />
<line x1="1057.00" y1="255.52" x2="1064.20" y2="246.88" stroke="#1c1c1c" stroke-width="1.0" />
<text transform="translate(1041.80,248.40) scale(0.758,1)" x="-0.00" y="0" font-size="11.14" font-weight="bold" font-style="normal" fill="#1e1e1e" stroke="#1e1e1e" stroke-width="0.2">400</text>
<text transform="translate(806.25,281.25) scale(0.700,1)" x="-0.00" y="0" font-size="12.50" font-weight="bold" font-style="italic" fill="#1e1e1e" stroke="#1e1e1e" stroke-width="0.2">7</text>
<line x1="814.50" y1="276.50" x2="821.00" y2="276.50" stroke="#1c1c1c" stroke-width="1.2" />
<text transform="translate(824.50,281.25) scale(0.733,1)" x="-0.00" y="0" font-size="12.50" font-weight="bold" font-style="italic" fill="#1e1e1e" stroke="#1e1e1e" stroke-width="0.2">7</text>
<line x1="800.00" y1="283.00" x2="832.50" y2="283.00" stroke="#1c1c1c" stroke-width="1.2" />
<text transform="translate(807.00,316.25) scale(0.673,1)" x="-0.00" y="0" font-size="10.71" font-weight="bold" font-style="normal" fill="#1e1e1e" stroke="#1e1e1e" stroke-width="0.2">15</text>
<path d="M800.00,318.75 L823.75,318.75 L836.25,335.00" stroke="#1c1c1c" stroke-width="1.1" fill="none" stroke-linejoin="miter"/>
<text transform="translate(916.25,302.50) scale(0.880,1)" x="-0.00" y="0" font-size="10.71" font-weight="bold" font-style="normal" textLength="15.63" lengthAdjust="spacing" fill="#1e1e1e" stroke="#1e1e1e" stroke-width="0.2">3н</text>
<path d="M931.50,305.50 L910.00,305.50 L896.25,333.75" stroke="#1c1c1c" stroke-width="1.1" fill="none" stroke-linejoin="miter"/>
<circle cx="717.30" cy="351.90" r="16.50" stroke="#262626" stroke-width="1.15" fill="none"/>
<circle cx="842.40" cy="353.00" r="17.50" stroke="#262626" stroke-width="1.15" fill="none"/>
<circle cx="888.90" cy="353.20" r="20.00" stroke="#262626" stroke-width="1.15" fill="none"/>
<line x1="710.60" y1="342.00" x2="905.40" y2="341.50" stroke="#1c1c1c" stroke-width="1.3" />
<line x1="775.00" y1="347.80" x2="841.80" y2="348.60" stroke="#1c1c1c" stroke-width="1.1" />
<path d="M710.60,342.00 L710.60,353.10 L716.90,353.10 L715.00,365.20 L775.00,365.20" stroke="#1c1c1c" stroke-width="1.4" fill="none" stroke-linejoin="miter"/>
<path d="M775.00,342.00 L775.00,347.80 L770.00,365.20" stroke="#1c1c1c" stroke-width="1.2" fill="none" stroke-linejoin="miter"/>
<line x1="775.00" y1="365.20" x2="905.00" y2="365.20" stroke="#1c1c1c" stroke-width="1.3" />
<path d="M905.40,341.50 L905.40,358.60 L884.20,358.60 L881.20,365.00" stroke="#1c1c1c" stroke-width="1.4" fill="none" stroke-linejoin="miter"/>
<path d="M841.80,341.50 L841.00,348.60 L843.00,352.00 L841.80,365.60" stroke="#1c1c1c" stroke-width="1.2" fill="none" stroke-linejoin="miter"/>
<path d="M727.00,346.90 L766.50,346.90 L766.50,360.30 L727.00,360.30 Z" stroke="#1c1c1c" stroke-width="1.6" fill="none" stroke-linejoin="miter"/>
<line x1="723.60" y1="346.90" x2="769.40" y2="346.90" stroke="#1c1c1c" stroke-width="1.6" />
<line x1="723.60" y1="360.30" x2="769.40" y2="360.30" stroke="#1c1c1c" stroke-width="1.6" />
<circle cx="727.00" cy="346.90" r="1.5" fill="#111"/>
<circle cx="766.50" cy="346.90" r="1.5" fill="#111"/>
<circle cx="727.00" cy="360.30" r="1.5" fill="#111"/>
<circle cx="766.50" cy="360.30" r="1.5" fill="#111"/>
<path d="M848.30,347.40 L875.40,347.40 L875.40,360.30 L848.30,360.30 Z" stroke="#1c1c1c" stroke-width="1.5" fill="none" stroke-linejoin="miter"/>
<path d="M875.40,347.40 L900.70,347.40 L900.70,355.60 L870.10,355.60" stroke="#1c1c1c" stroke-width="1.5" fill="none" stroke-linejoin="miter"/>
<line x1="848.30" y1="343.30" x2="848.30" y2="363.90" stroke="#1c1c1c" stroke-width="1.5" />
<line x1="875.40" y1="343.30" x2="875.40" y2="363.90" stroke="#1c1c1c" stroke-width="1.5" />
<circle cx="848.30" cy="347.40" r="1.4" fill="#111"/>
<circle cx="875.40" cy="347.40" r="1.4" fill="#111"/>
<circle cx="848.30" cy="360.30" r="1.4" fill="#111"/>
<circle cx="875.40" cy="360.30" r="1.4" fill="#111"/>
<line x1="670.00" y1="336.25" x2="670.00" y2="368.75" stroke="#1c1c1c" stroke-width="1.0" />
<line x1="668.75" y1="341.25" x2="691.25" y2="341.25" stroke="#1c1c1c" stroke-width="1.0" />
<line x1="668.00" y1="365.50" x2="691.25" y2="365.50" stroke="#1c1c1c" stroke-width="1.0" />
<line x1="666.40" y1="345.57" x2="673.60" y2="336.93" stroke="#1c1c1c" stroke-width="1.0" />
<line x1="666.40" y1="369.82" x2="673.60" y2="361.18" stroke="#1c1c1c" stroke-width="1.0" />
<text transform="translate(666.25,358.75) rotate(-90) scale(0.844,1)" x="-0.00" y="0" font-size="10.64" font-weight="bold" fill="#1e1e1e" stroke="#1e1e1e" stroke-width="0.2">400</text>
<line x1="710.00" y1="358.90" x2="710.00" y2="437.00" stroke="#1c1c1c" stroke-width="1.0" />
<line x1="772.80" y1="359.40" x2="772.80" y2="417.50" stroke="#1c1c1c" stroke-width="1.0" />
<line x1="841.50" y1="365.60" x2="841.50" y2="416.25" stroke="#1c1c1c" stroke-width="1.0" />
<line x1="904.60" y1="358.60" x2="904.60" y2="437.00" stroke="#1c1c1c" stroke-width="1.0" />
<line x1="708.75" y1="411.20" x2="910.00" y2="411.20" stroke="#1c1c1c" stroke-width="1.0" />
<line x1="708.75" y1="429.20" x2="910.00" y2="429.20" stroke="#1c1c1c" stroke-width="1.0" />
<line x1="706.40" y1="415.52" x2="713.60" y2="406.88" stroke="#1c1c1c" stroke-width="1.0" />
<line x1="769.20" y1="415.52" x2="776.40" y2="406.88" stroke="#1c1c1c" stroke-width="1.0" />
<line x1="837.90" y1="415.52" x2="845.10" y2="406.88" stroke="#1c1c1c" stroke-width="1.0" />
<line x1="901.00" y1="415.52" x2="908.20" y2="406.88" stroke="#1c1c1c" stroke-width="1.0" />
<line x1="706.40" y1="433.52" x2="713.60" y2="424.88" stroke="#1c1c1c" stroke-width="1.0" />
<line x1="901.00" y1="433.52" x2="908.20" y2="424.88" stroke="#1c1c1c" stroke-width="1.0" />
<text transform="translate(735.40,410.00) scale(0.665,1)" x="-0.00" y="0" font-size="13.57" font-weight="bold" font-style="normal" fill="#1e1e1e" stroke="#1e1e1e" stroke-width="0.2">А</text>
<text transform="translate(797.00,407.40) scale(0.821,1)" x="-0.00" y="0" font-size="10.29" font-weight="bold" font-style="normal" fill="#1e1e1e" stroke="#1e1e1e" stroke-width="0.2">1510</text>
<text transform="translate(868.50,407.40) scale(0.569,1)" x="-0.00" y="0" font-size="13.43" font-weight="bold" font-style="normal" fill="#1e1e1e" stroke="#1e1e1e" stroke-width="0.2">В</text>
<text transform="translate(802.00,425.30) scale(0.590,1)" x="-0.00" y="0" font-size="14.71" font-weight="bold" font-style="italic" fill="#1e1e1e" stroke="#1e1e1e" stroke-width="0.2">L</text>
<line x1="877.50" y1="393.75" x2="911.25" y2="393.75" stroke="#1c1c1c" stroke-width="1.0" />
<line x1="881.25" y1="378.75" x2="881.25" y2="397.50" stroke="#1c1c1c" stroke-width="1.0" />
<line x1="877.65" y1="398.07" x2="884.85" y2="389.43" stroke="#1c1c1c" stroke-width="1.0" />
<line x1="901.00" y1="398.07" x2="908.20" y2="389.43" stroke="#1c1c1c" stroke-width="1.0" />
<text transform="translate(888.50,390.60) scale(0.798,1)" x="-0.00" y="0" font-size="10.29" font-weight="bold" font-style="normal" fill="#1e1e1e" stroke="#1e1e1e" stroke-width="0.2">440</text>
<text transform="translate(667.50,405.00) scale(0.880,1)" x="-0.00" y="0" font-size="10.71" font-weight="bold" font-style="normal" textLength="12.79" lengthAdjust="spacing" fill="#1e1e1e" stroke="#1e1e1e" stroke-width="0.2">1н</text>
<path d="M661.25,407.50 L685.00,407.50 L706.25,365.00" stroke="#1c1c1c" stroke-width="1.1" fill="none" stroke-linejoin="miter"/>
<text transform="translate(1032.50,305.50) scale(0.834,1)" x="-0.00" y="0" font-size="10.71" font-weight="bold" font-style="normal" fill="#1e1e1e" stroke="#1e1e1e" stroke-width="0.2">ФАСАД</text>
<line x1="1031.60" y1="309.10" x2="1068.50" y2="309.10" stroke="#1c1c1c" stroke-width="1.3" />
<path d="M1008.50,339.50 L1012.80,337.80 L1013.70,333.50 L1106.00,333.50 L1106.00,399.40 L1007.90,399.40 L1008.50,339.50" stroke="#2a2a2a" stroke-width="1.05" fill="none" stroke-linejoin="miter"/>
<line x1="1013.00" y1="336.80" x2="1106.00" y2="336.80" stroke="#2a2a2a" stroke-width="1.0" />
<line x1="1018.5" y1="334" x2="1018.5" y2="399" stroke="#222" stroke-width="1.2" stroke-dasharray="6,3"/>
<path d="M1036.1,351.1 H1075.1 V373.9 H1036.1 Z M1039.1,353.5 V370.9 H1072.1 V353.5 Z" fill="#8a8a8a" fill-rule="evenodd"/>
<path d="M1036.10,351.10 L1075.10,351.10 L1075.10,373.90 L1036.10,373.90 Z" stroke="#1c1c1c" stroke-width="1.3" fill="none" stroke-linejoin="miter"/>
<path d="M1039.10,353.50 L1072.10,353.50 L1072.10,370.90 L1039.10,370.90 Z" stroke="#1c1c1c" stroke-width="1.1" fill="none" stroke-linejoin="miter"/>
</svg>
</body></html>
